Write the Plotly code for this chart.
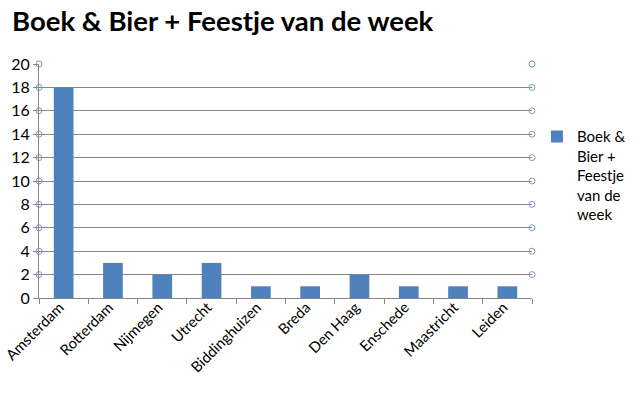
import plotly.graph_objects as go

categories = ["Amsterdam", "Rotterdam", "Nijmegen", "Utrecht", "Biddinghuizen",
              "Breda", "Den Haag", "Enschede", "Maastricht", "Leiden"]
values = [18, 3, 2, 3, 1, 1, 2, 1, 1, 1]
series_name = "Boek & Bier + Feestje van de week"
title_text = "Boek & Bier + Feestje van de week"
y_ticks = [0, 2, 4, 6, 8, 10, 12, 14, 16, 18, 20]

FONT = "Lato, 'Open Sans', sans-serif"
GRID = "#868686"

fig = go.Figure()
fig.add_trace(go.Bar(
    x=categories, y=values, name="Boek &<br>Bier +<br>Feestje<br>van de<br>week",
    marker=dict(color="#4F81BD", line=dict(width=0)),
))

# decorative circles at the ends of gridlines
circ_y = [v for v in y_ticks if v > 0]
fig.add_trace(go.Scatter(
    x=[0] * len(circ_y) + [1] * len(circ_y), y=circ_y + circ_y,
    xaxis="x2", mode="markers", showlegend=False, hoverinfo="skip",
    marker=dict(symbol="circle-open", size=6, color="#7D9CC0", line=dict(width=1)),
    cliponaxis=False,
))

fig.update_layout(
    width=635, height=395,
    margin=dict(l=39, r=103, t=64, b=97, autoexpand=False),
    paper_bgcolor="white", plot_bgcolor="white",
    font=dict(family=FONT, color="black", size=16),
    title=dict(text="<b>" + title_text + "</b>", x=0.019, xanchor="left",
               y=0.945, yanchor="middle", font=dict(size=27.5, family=FONT, color="black")),
    bargap=0.6,
    showlegend=True,
    legend=dict(x=1.01, y=0.76, xanchor="left", yanchor="top", valign="top",
                font=dict(size=15, family=FONT), itemwidth=30,
                bgcolor="rgba(0,0,0,0)", tracegroupgap=0),
    xaxis=dict(
        showgrid=False, showline=True, linecolor=GRID, linewidth=1,
        ticks="outside", tickson="boundaries", ticklen=5, tickcolor=GRID,
        tickangle=-45, tickfont=dict(size=14.8), zeroline=False, automargin=False,
        ticklabelshift=-4, ticklabelstandoff=-6,
    ),
    xaxis2=dict(overlaying="x", range=[0, 1], visible=False, fixedrange=True),
    yaxis=dict(
        range=[0, 20], tickvals=y_ticks, showgrid=True, gridcolor=GRID, gridwidth=1,
        showline=True, linecolor=GRID, linewidth=1, ticks="outside", ticklen=5,
        tickcolor=GRID, tickfont=dict(size=16), zeroline=False, automargin=False,
    ),
)

fig.write_html("out.html", config={"displayModeBar": False},
               post_script="document.body.style.margin='0';")
